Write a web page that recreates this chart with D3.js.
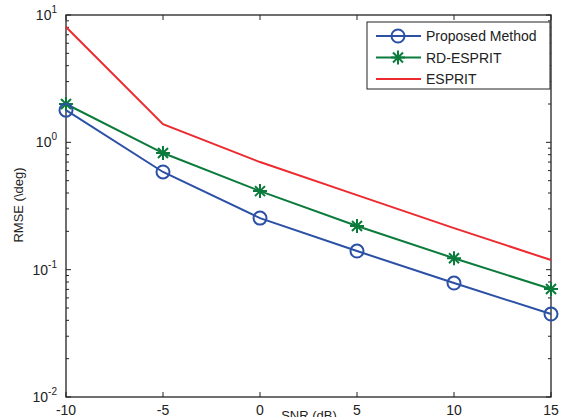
<!DOCTYPE html>
<head>
  <meta charset="utf-8">
  <script src="https://unpkg.com/d3@7/dist/d3.min.js"></script>
  <style>
    body { margin:0; background:#fff; }
    text { font-family: "Liberation Sans", Arial, sans-serif; fill:#222; }
  </style>
</head>
<body>
  <svg width="570" height="417"></svg>
  <script>
    // data
    var snr = [-10, -5, 0, 5, 10, 15];
    var proposed = [1.79, 0.585, 0.254, 0.14, 0.0785, 0.0448];
    var rdEsprit = [2.0, 0.824, 0.414, 0.22, 0.123, 0.0705];
    var esprit = [8.05, 1.39, 0.70, 0.385, 0.212, 0.119];
    var xTicks = [-10, -5, 0, 5, 10, 15];
    var yExps = [-2, -1, 0, 1];

    var series = [
      {name: "Proposed Method", values: proposed, color: "#2b50a6", marker: "circle"},
      {name: "RD-ESPRIT", values: rdEsprit, color: "#0b7b3c", marker: "star"},
      {name: "ESPRIT", values: esprit, color: "#ec2a2f", marker: null}
    ];

    var svg = d3.select("svg");
    // plot box (window.top is read-only, so no "top" here)
    var pL = 66, pR = 551, pT = 15, pB = 397;

    var x = d3.scaleLinear().domain([-10, 15]).range([pL, pR]);
    var y = d3.scaleLog().domain([0.01, 10]).range([pB, pT]);

    // minor log ticks
    var minor = [];
    yExps.slice(0, 3).forEach(function (e) {
      for (var k = 2; k <= 9; k++) minor.push(k * Math.pow(10, e));
    });

    var ax = svg.append("g").attr("stroke", "#222").attr("stroke-width", 1);
    ax.selectAll(".xt").data(xTicks).enter().append("path")
      .attr("d", function (d) {
        return "M" + x(d) + "," + pB + "v-5M" + x(d) + "," + pT + "v5";
      });
    ax.selectAll(".yt").data(yExps).enter().append("path")
      .attr("d", function (d) {
        var v = Math.pow(10, d);
        return "M" + pL + "," + y(v) + "h5M" + pR + "," + y(v) + "h-5";
      });
    ax.selectAll(".ym").data(minor).enter().append("path")
      .attr("d", function (d) {
        return "M" + pL + "," + y(d) + "h3M" + pR + "," + y(d) + "h-3";
      });

    svg.append("rect")
      .attr("x", pL).attr("y", pT)
      .attr("width", pR - pL).attr("height", pB - pT)
      .attr("fill", "none").attr("stroke", "#222").attr("stroke-width", 1.3);

    // tick labels
    svg.selectAll(".xl").data(xTicks).enter().append("text")
      .attr("x", function (d) { return x(d); })
      .attr("y", 415)
      .attr("text-anchor", "middle")
      .attr("font-size", 14)
      .text(function (d) { return d; });

    var yl = svg.selectAll(".yl").data(yExps).enter().append("text")
      .attr("x", 57)
      .attr("y", function (d) { return y(Math.pow(10, d)) + 5; })
      .attr("text-anchor", "end")
      .attr("font-size", 14);
    yl.append("tspan").text("10");
    yl.append("tspan").attr("dy", -7).attr("font-size", 10).text(function (d) { return d; });

    // axis titles (x title runs off the bottom edge like the original)
    svg.append("text")
      .attr("x", 309).attr("y", 420)
      .attr("text-anchor", "middle").attr("font-size", 13)
      .text("SNR (dB)");
    svg.append("text")
      .attr("transform", "translate(23,205) rotate(-90)")
      .attr("text-anchor", "middle").attr("font-size", 13)
      .text("RMSE (\\deg)");

    var line = d3.line()
      .x(function (d, i) { return x(snr[i]); })
      .y(function (d) { return y(d); });

    var star = "M-7,0H7M0,-7V7M-5,-5L5,5M-5,5L5,-5";

    function drawMarker(g, type, color) {
      if (type === "circle") {
        g.append("circle").attr("r", 6.5)
          .attr("fill", "none").attr("stroke", color).attr("stroke-width", 2);
      } else if (type === "star") {
        g.append("path").attr("d", star)
          .attr("fill", "none").attr("stroke", color).attr("stroke-width", 2);
      }
    }

    series.slice().reverse().forEach(function (s) {
      svg.append("path")
        .attr("d", line(s.values))
        .attr("fill", "none")
        .attr("stroke", s.color)
        .attr("stroke-width", 2);
      if (s.marker) {
        s.values.forEach(function (v, i) {
          var g = svg.append("g")
            .attr("transform", "translate(" + x(snr[i]) + "," + y(v) + ")");
          drawMarker(g, s.marker, s.color);
        });
      }
    });

    // legend
    var lg = svg.append("g");
    lg.append("rect")
      .attr("x", 367).attr("y", 22).attr("width", 183).attr("height", 67)
      .attr("fill", "#fff").attr("stroke", "#222").attr("stroke-width", 1);
    series.forEach(function (s, i) {
      var yy = 36 + i * 21.5;
      lg.append("path").attr("d", "M376," + yy + "H421")
        .attr("stroke", s.color).attr("stroke-width", 2);
      var g = lg.append("g").attr("transform", "translate(398," + yy + ")");
      drawMarker(g, s.marker, s.color);
      lg.append("text").attr("x", 426).attr("y", yy + 5)
        .attr("font-size", 14).text(s.name);
    });
  </script>
</body>
